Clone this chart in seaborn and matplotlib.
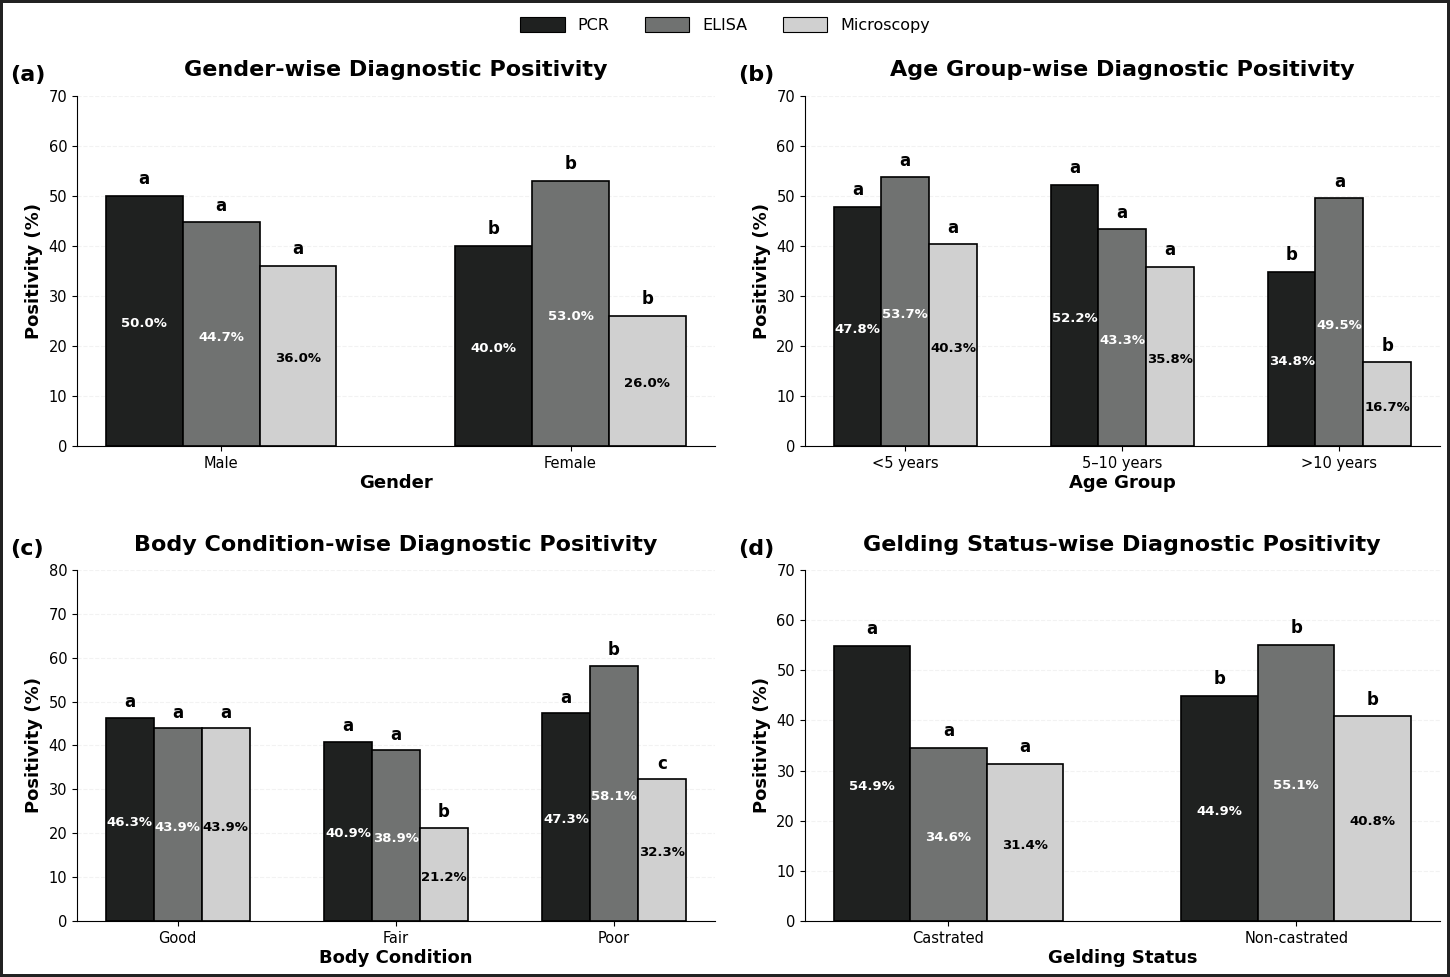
import pandas as pd
import matplotlib
matplotlib.use('Agg')
import matplotlib.pyplot as plt
import seaborn as sns

# Данные по панелям
tests = ['PCR', 'ELISA', 'Microscopy']
colors = ['#1f2120', '#707271', '#d0d0d0']

gender_cats = ['Male', 'Female']
gender_pcr = [50.0, 40.0]
gender_elisa = [44.7, 53.0]
gender_micro = [36.0, 26.0]
gender_letters = [['a', 'b'], ['a', 'b'], ['a', 'b']]

age_cats = ['<5 years', '5–10 years', '>10 years']
age_pcr = [47.8, 52.2, 34.8]
age_elisa = [53.7, 43.3, 49.5]
age_micro = [40.3, 35.8, 16.7]
age_letters = [['a', 'a', 'b'], ['a', 'a', 'a'], ['a', 'a', 'b']]

body_cats = ['Good', 'Fair', 'Poor']
body_pcr = [46.3, 40.9, 47.3]
body_elisa = [43.9, 38.9, 58.1]
body_micro = [43.9, 21.2, 32.3]
body_letters = [['a', 'a', 'a'], ['a', 'a', 'b'], ['a', 'b', 'c']]

geld_cats = ['Castrated', 'Non-castrated']
geld_pcr = [54.9, 44.9]
geld_elisa = [34.6, 55.1]
geld_micro = [31.4, 40.8]
geld_letters = [['a', 'b'], ['a', 'b'], ['a', 'b']]

panels = [
    ('(a)', 'Gender-wise Diagnostic Positivity', 'Gender', gender_cats,
     [gender_pcr, gender_elisa, gender_micro], gender_letters, 70),
    ('(b)', 'Age Group-wise Diagnostic Positivity', 'Age Group', age_cats,
     [age_pcr, age_elisa, age_micro], age_letters, 70),
    ('(c)', 'Body Condition-wise Diagnostic Positivity', 'Body Condition', body_cats,
     [body_pcr, body_elisa, body_micro], body_letters, 80),
    ('(d)', 'Gelding Status-wise Diagnostic Positivity', 'Gelding Status', geld_cats,
     [geld_pcr, geld_elisa, geld_micro], geld_letters, 70),
]

sns.set_style('ticks')
plt.rcParams['font.family'] = ['DejaVu Sans']
plt.rcParams.update({'text.color': 'black', 'axes.labelcolor': 'black',
                     'xtick.color': 'black', 'ytick.color': 'black',
                     'axes.edgecolor': 'black'})

fig = plt.figure(figsize=(14.5, 9.77), dpi=100)
fig.patch.set_edgecolor('#222222')
fig.patch.set_linewidth(3)

boxes = [
    [0.053, 0.5435, 0.440, 0.3585],
    [0.555, 0.5435, 0.438, 0.3585],
    [0.053, 0.0573, 0.440, 0.3593],
    [0.555, 0.0573, 0.438, 0.3593],
]

for (tag, title, xlabel, cats, series, letters, ymax), box in zip(panels, boxes):
    ax = fig.add_axes(box)
    rows = []
    for test, vals in zip(tests, series):
        for c, v in zip(cats, vals):
            rows.append((c, test, v))
    df = pd.DataFrame(rows, columns=['Category', 'Test', 'Positivity'])

    sns.barplot(data=df, x='Category', y='Positivity', hue='Test',
                order=cats, hue_order=tests, palette=colors,
                width=0.66, edgecolor='black', linewidth=1.2,
                errorbar=None, ax=ax, legend=False, saturation=1)

    for i, cont in enumerate(ax.containers):
        txt_color = 'black' if i == 2 else 'white'
        for j, bar in enumerate(cont):
            h = bar.get_height()
            x = bar.get_x() + bar.get_width() / 2
            ax.text(x, h / 2 - 0.6, f'{h:.1f}%', ha='center', va='center',
                    color=txt_color, fontsize=9.5, fontweight='bold')
            ax.text(x, h + 1.5, letters[i][j], ha='center', va='bottom',
                    fontsize=12, fontweight='bold')

    n = len(cats)
    span = (n - 1) + 0.66
    ax.set_xlim(-0.33 - 0.05 * span, n - 1 + 0.33 + 0.05 * span)
    ax.set_ylim(0, ymax)
    ax.set_yticks(range(0, ymax + 1, 10))
    ax.yaxis.grid(True, linestyle='--', alpha=0.25)
    ax.set_axisbelow(True)
    ax.set_title(title, fontsize=16, fontweight='bold', pad=14)
    ax.set_xlabel(xlabel, fontsize=13, fontweight='bold', labelpad=2)
    ax.set_ylabel('Positivity (%)', fontsize=13, fontweight='bold')
    ax.tick_params(labelsize=10.5)
    sns.despine(ax=ax)
    ax.text(-0.105, 1.03, tag, transform=ax.transAxes, fontsize=16,
            fontweight='bold', va='bottom', ha='left')

handles = [plt.Rectangle((0, 0), 1, 1, facecolor=c, edgecolor='black', linewidth=0.8)
           for c in colors]
fig.legend(handles, tests, loc='upper center', ncol=3, frameon=False,
           fontsize=11.5, bbox_to_anchor=(0.5, 0.997), columnspacing=2.2,
           handlelength=2.8, handleheight=1.0)

plt.savefig('out.png', dpi=100, edgecolor=fig.get_edgecolor())
